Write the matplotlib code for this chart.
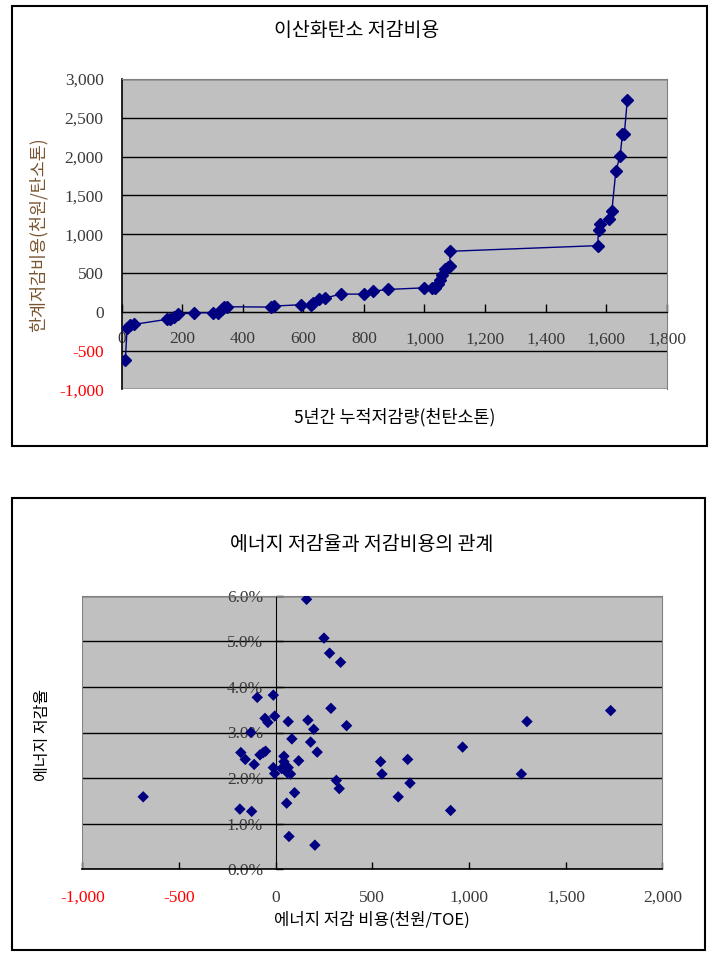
#!/usr/bin/env python3
# coding=utf-8

import matplotlib
matplotlib.use('Agg')
import matplotlib.pyplot as plt
from matplotlib.patches import Rectangle

plt.rcParams['font.family'] = ['Noto Sans CJK KR', 'DejaVu Sans']

# 위: 이산화탄소 저감비용 (누적저감량, 한계저감비용)
co2_cum = [12, 18, 27, 41, 148, 160, 173, 185, 238, 300, 319, 330, 339, 347,
           494, 503, 591, 625, 633, 653, 671, 723, 800, 831, 878, 998, 1024,
           1035, 1044, 1051, 1057, 1068, 1079, 1084, 1084, 1572, 1575, 1581,
           1610, 1619, 1632, 1646, 1654, 1660, 1670]
co2_cost = [-620, -206, -176, -163, -99, -90, -64, -35, -13, -13, -20, 30, 60,
            64, 60, 73, 90, 90, 107, 158, 175, 227, 227, 265, 287, 308, 308,
            308, 351, 415, 479, 552, 578, 586, 779, 852, 1058, 1135, 1195,
            1302, 1816, 2005, 2288, 2290, 2733]
co2_xticks = [0, 200, 400, 600, 800, 1000, 1200, 1400, 1600, 1800]
co2_yticks = [-1000, -500, 0, 500, 1000, 1500, 2000, 2500, 3000]

# 아래: 에너지 저감율과 저감비용 (천원/TOE, %)
en_cost = [160, 250, 279, 336, -95, -12, -5, -55, -40, 65, 167, 197, 286, 367,
           -128, -180, -157, -111, -81, -64, -52, -12, -5, 43, 43, 31, 65, 60,
           77, 84, 119, 181, 215, 98, 57, 69, 203, -185, -124, -685, 314, 329,
           543, 550, 683, 695, 634, 967, 905, 1271, 1300, 1733]
en_rate = [5.92, 5.07, 4.74, 4.54, 3.77, 3.82, 3.36, 3.31, 3.22, 3.24, 3.27,
           3.07, 3.53, 3.15, 3.00, 2.56, 2.41, 2.30, 2.51, 2.56, 2.59, 2.23,
           2.10, 2.48, 2.36, 2.21, 2.23, 2.12, 2.09, 2.86, 2.38, 2.79, 2.57,
           1.68, 1.45, 0.72, 0.53, 1.32, 1.27, 1.59, 1.95, 1.77, 2.36, 2.09,
           2.41, 1.89, 1.59, 2.68, 1.29, 2.09, 3.24, 3.48]
en_xticks = [-1000, -500, 0, 500, 1000, 1500, 2000]
en_yticks = [0, 1, 2, 3, 4, 5, 6]

W, H = 717, 960
fig = plt.figure(figsize=(W / 100, H / 100), dpi=100)

navy = '#000080'
bg = '#C0C0C0'
numc = '#3a3a3a'
num_font = 'Liberation Serif'


def px(x0, y0, x1, y1):
    return [x0 / W, 1 - y1 / H, (x1 - x0) / W, (y1 - y0) / H]


# 바깥 테두리
fig.patches.append(Rectangle((12 / W, 1 - 446 / H), 695 / W, 440 / H, fill=False,
                             edgecolor='black', lw=1.5, transform=fig.transFigure))
fig.patches.append(Rectangle((12 / W, 1 - 950 / H), 693 / W, 452 / H, fill=False,
                             edgecolor='black', lw=1.5, transform=fig.transFigure))

# ---- 위 그래프 ----
ax = fig.add_axes(px(121.7, 79, 666.7, 389.3))
ax.set_facecolor(bg)
ax.plot(co2_cum, co2_cost, color=navy, lw=1, marker='D', ms=6, zorder=3)
ax.set_xlim(0, 1800)
ax.set_ylim(-1000, 3000)
ax.set_xticks(co2_xticks)
ax.set_xticklabels([f'{v:,}' for v in co2_xticks])
ax.set_yticks(co2_yticks)
ax.set_yticklabels([f'{v:,}' for v in co2_yticks])
ax.yaxis.grid(True, color='black', lw=1)
ax.set_axisbelow(True)
ax.spines['bottom'].set_position(('data', 0))
ax.spines['bottom'].set_color('black')
ax.spines['left'].set_color('black')
ax.spines['left'].set_linewidth(1.2)
ax.spines['top'].set_color('#808080')
ax.spines['right'].set_color('#808080')
ax.tick_params(axis='x', direction='in', length=6, width=1, pad=14, labelsize=12.5)
ax.tick_params(axis='y', length=0, pad=13, labelsize=12.5)
for lab, v in zip(ax.get_xticklabels(), co2_xticks):
    lab.set_fontfamily(num_font)
    lab.set_color('red' if v < 0 else numc)
for lab, v in zip(ax.get_yticklabels(), co2_yticks):
    lab.set_fontfamily(num_font)
    lab.set_color('red' if v < 0 else numc)

fig.text(357 / W, 1 - 30 / H, '이산화탄소 저감비용', ha='center', va='center', fontsize=14)
fig.text(395 / W, 1 - 417 / H, '5년간 누적저감량(천탄소톤)', ha='center', va='center',
         fontsize=12.5)
fig.text(38 / W, 1 - 235 / H, '한계저감비용(천원/탄소톤)', ha='center', va='center',
         rotation=90, fontsize=12.5, color='#7a5530')

# ---- 아래 그래프 ----
bx = fig.add_axes(px(82.3, 595.7, 662.3, 869.3))
bx.set_facecolor(bg)
bx.scatter(en_cost, [r / 100 for r in en_rate], marker='D', s=34, color=navy,
           edgecolors='none', zorder=3)
bx.set_xlim(-1000, 2000)
bx.set_ylim(0, 0.06)
bx.set_xticks(en_xticks)
bx.set_xticklabels([f'{v:,}' for v in en_xticks])
bx.set_yticks([v / 100 for v in en_yticks])
bx.set_yticklabels([f'{v:.1f}%' for v in en_yticks])
bx.yaxis.grid(True, color='black', lw=1)
bx.set_axisbelow(True)
bx.spines['left'].set_position(('data', 0))
bx.spines['left'].set_color('black')
bx.spines['bottom'].set_color('black')
bx.spines['bottom'].set_linewidth(1.2)
bx.spines['top'].set_color('#808080')
bx.spines['right'].set_color('#808080')
bx.axvline(-1000, color='#808080', lw=1.5)
bx.tick_params(axis='x', direction='in', length=5, width=1, pad=15, labelsize=12.5)
bx.tick_params(axis='y', direction='in', length=5, width=1, pad=9, labelsize=12.5)
for lab, v in zip(bx.get_xticklabels(), en_xticks):
    lab.set_fontfamily(num_font)
    lab.set_color('red' if v < 0 else numc)
for lab in bx.get_yticklabels():
    lab.set_fontfamily(num_font)
    lab.set_color(numc)

fig.text(362 / W, 1 - 545 / H, '에너지 저감율과 저감비용의 관계', ha='center', va='center',
         fontsize=14)
fig.text(372 / W, 1 - 920 / H, '에너지 저감 비용(천원/TOE)', ha='center', va='center',
         fontsize=12)
fig.text(42 / W, 1 - 735 / H, '에너지 저감율', ha='center', va='center', rotation=90,
         fontsize=11.5)

fig.savefig('out.png', dpi=100)
